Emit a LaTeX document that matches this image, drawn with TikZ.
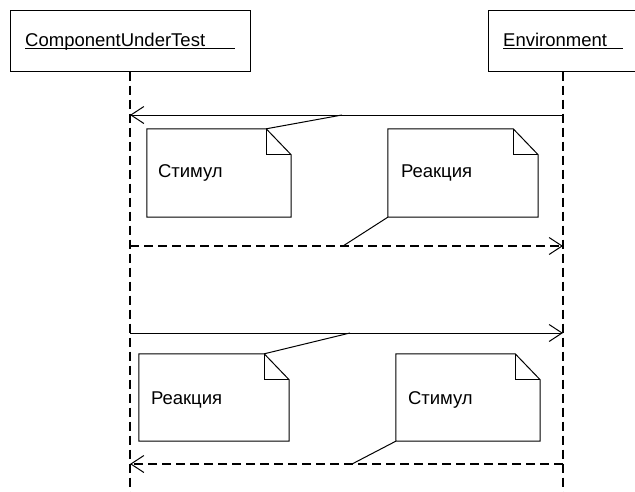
\documentclass[tikz,border=0pt]{standalone}
\usepackage{fontspec}
\setmainfont{Liberation Sans}
\usetikzlibrary{arrows.meta}

% outline of a UML note: rectangle with a folded top-right corner
\newcommand\notesheet[1]{%
  \draw[noteline] (#1.north west) -- ([xshift=-25pt]#1.north east)
    -- ([yshift=-26pt]#1.north east) -- (#1.south east)
    -- (#1.south west) -- cycle;
  \draw[noteline] ([xshift=-25pt]#1.north east) |- ([yshift=-26pt]#1.north east);
}

\begin{document}
\begin{tikzpicture}[x=1pt,y=-1pt,
  txt/.style={inner sep=0pt, anchor=base west, font=\fontsize{18.5}{22}\selectfont},
  objbox/.style={draw, line width=1pt, minimum height=61pt, inner sep=0pt},
  lifeline/.style={line width=1.8pt, dash pattern=on 9pt off 5pt},
  notearea/.style={inner sep=0pt},
  noteline/.style={line width=1pt},
  barb/.style={-{Straight Barb[length=13pt, width=17pt, line width=1pt]}},
  msg/.style={barb, line width=1pt},
  reply/.style={barb, line width=1.8pt, dash pattern=on 9pt off 5pt},
  link/.style={line width=1pt},
]
\clip (0,0) rectangle (635,491);

% participants
\node[objbox, minimum width=240pt] (comp) at (130,40.5) {};
\node[objbox, minimum width=156pt, anchor=west] (env) at (488,40.5) {};
\coordinate (envmid) at (563,40.5);
\node[txt] (compname) at (25,46) {ComponentUnderTest};
\node[txt] (envname) at (503,46) {Environment};
\draw[line width=0.9pt] ([yshift=-2.5pt]compname.base west) -- ++(210,0);
\draw[line width=0.9pt] ([yshift=-2.5pt]envname.base west) -- ++(120,0);

% lifelines
\coordinate (envtop) at (envmid |- env.south);
\coordinate (compend) at (comp.south |- 0,495);
\coordinate (envend) at (envmid |- 0,495);
\draw[lifeline] (comp.south) -- (compend);
\draw[lifeline] (envtop) -- (envend);

% message end points on the lifelines
\coordinate (c1) at (comp.south |- 0,115);  \coordinate (e1) at (envmid |- 0,115);
\coordinate (c2) at (comp.south |- 0,246);  \coordinate (e2) at (envmid |- 0,246);
\coordinate (c3) at (comp.south |- 0,333);  \coordinate (e3) at (envmid |- 0,333);
\coordinate (c4) at (comp.south |- 0,464);  \coordinate (e4) at (envmid |- 0,464);

% messages
\draw[msg] (e1) -- (c1);
\draw[reply] (c2) -- (e2);
\draw[msg] (c3) -- (e3);
\draw[reply] (e4) -- (c4);

% notes
\node[notearea, minimum width=144pt, minimum height=88pt] (n1) at (219,173) {};
\node[notearea, minimum width=150pt, minimum height=88pt] (n2) at (463,173) {};
\node[notearea, minimum width=150pt, minimum height=87pt] (n3) at (214,397.5) {};
\node[notearea, minimum width=144pt, minimum height=87pt] (n4) at (468,397.5) {};
\notesheet{n1}
\notesheet{n2}
\notesheet{n3}
\notesheet{n4}

\node[txt] (t1) at ([xshift=11pt, yshift=-49pt]n1.north west) {Стимул};
\node[txt] (t2) at ([xshift=13pt, yshift=-49pt]n2.north west) {Реакция};
\node[txt] (t3) at ([xshift=12pt, yshift=-51pt]n3.north west) {Реакция};
\node[txt] (t4) at ([xshift=12pt, yshift=-51pt]n4.north west) {Стимул};

% note attachments
\coordinate (k1) at (342,115);
\coordinate (k2) at (343,246);
\coordinate (k3) at (350,333);
\coordinate (k4) at (352,464);
\draw[link] (k1) -- ([xshift=-25pt]n1.north east);
\draw[link] (k2) -- (n2.south west);
\draw[link] (k3) -- ([xshift=-25pt]n3.north east);
\draw[link] (k4) -- (n4.south west);
\end{tikzpicture}
\end{document}
